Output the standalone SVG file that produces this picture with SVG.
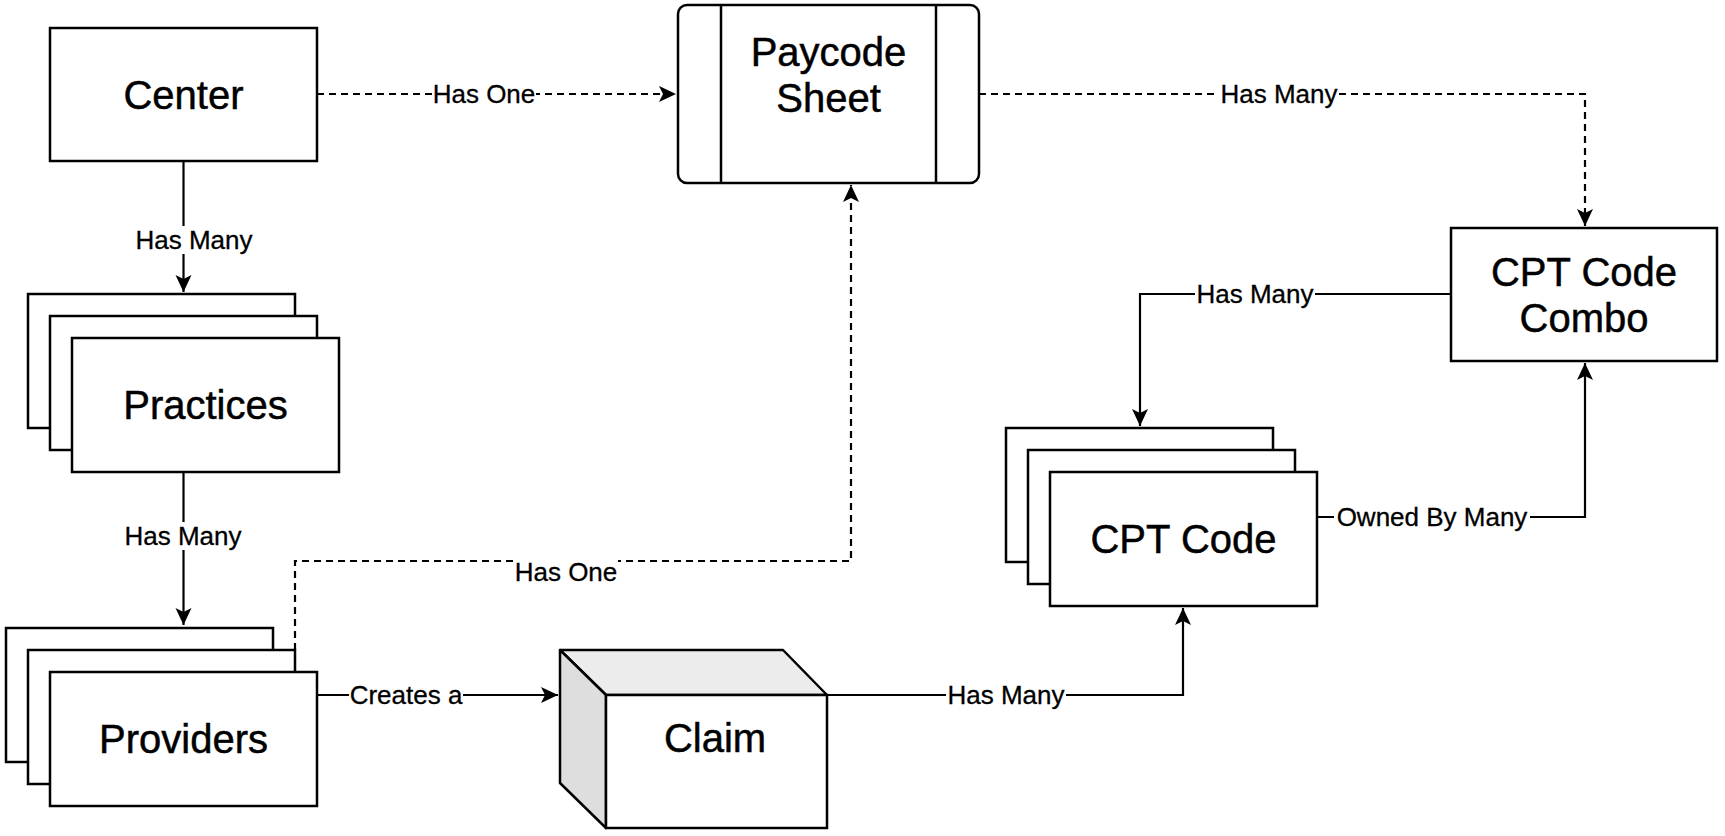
<svg xmlns="http://www.w3.org/2000/svg" width="1725" height="836" viewBox="0 0 1725 836">
<defs>
<style>
.box{fill:#fff;stroke:#000;stroke-width:2.5}
.node{font-family:"Liberation Sans",Arial,sans-serif;font-size:40px;fill:#000;stroke:#000;stroke-width:0.5;text-anchor:middle}
.lbl{font-family:"Liberation Sans",Arial,sans-serif;font-size:26px;fill:#000;stroke:#000;stroke-width:0.3;text-anchor:middle}
.lbg{fill:#fff;stroke:none}
.edge{fill:none;stroke:#000;stroke-width:2.2}
.dash{stroke-dasharray:7 5}
</style>
<marker id="arr" markerUnits="userSpaceOnUse" markerWidth="18" markerHeight="18" viewBox="0 0 18 18" refX="17" refY="9" orient="auto">
<path d="M0,1 L17,9 L0,17 L4,9 Z" fill="#000"/>
</marker>
</defs>
<rect width="1725" height="836" fill="#fff"/>

<g id="connectors">
<path class="edge dash" d="M317,94 L676,94" marker-end="url(#arr)"/>
<path class="edge dash" d="M979,94 L1585,94 L1585,226" marker-end="url(#arr)"/>
<path class="edge" d="M183.5,161 L183.5,292" marker-end="url(#arr)"/>
<path class="edge" d="M183.5,472 L183.5,625" marker-end="url(#arr)"/>
<path class="edge" d="M1451,294 L1140,294 L1140,426" marker-end="url(#arr)"/>
<path class="edge" d="M1317,517 L1585,517 L1585,363" marker-end="url(#arr)"/>
<path class="edge" d="M317,695 L558,695" marker-end="url(#arr)"/>
<path class="edge" d="M827,695 L1183,695 L1183,608" marker-end="url(#arr)"/>
<path class="edge dash" d="M295,650 L295,561 L851,561 L851,185" marker-end="url(#arr)"/>
<rect class="lbg" x="432" y="80" width="104" height="28"/>
<text class="lbl" x="484" y="103">Has One</text>
<rect class="lbg" x="1219" y="80" width="120" height="28"/>
<text class="lbl" x="1279" y="103">Has Many</text>
<rect class="lbg" x="134" y="226" width="120" height="28"/>
<text class="lbl" x="194" y="249">Has Many</text>
<rect class="lbg" x="123" y="522" width="120" height="28"/>
<text class="lbl" x="183" y="545">Has Many</text>
<rect class="lbg" x="514" y="560" width="104" height="26"/>
<text class="lbl" x="566" y="581">Has One</text>
<rect class="lbg" x="349" y="681" width="114" height="28"/>
<text class="lbl" x="406" y="704">Creates a</text>
<rect class="lbg" x="946" y="681" width="120" height="28"/>
<text class="lbl" x="1006" y="704">Has Many</text>
<rect class="lbg" x="1195" y="280" width="120" height="28"/>
<text class="lbl" x="1255" y="303">Has Many</text>
<rect class="lbg" x="1334" y="503" width="196" height="28"/>
<text class="lbl" x="1432" y="526">Owned By Many</text>
</g>

<g id="center">
<rect class="box" x="50" y="28" width="267" height="133"/>
<text class="node" x="183.5" y="108.5">Center</text>
</g>

<g id="paycode-sheet">
<rect class="box" x="678" y="5" width="301" height="178" rx="9" ry="9"/>
<line x1="721" y1="5" x2="721" y2="183" stroke="#000" stroke-width="2.5"/>
<line x1="936" y1="5" x2="936" y2="183" stroke="#000" stroke-width="2.5"/>
<text class="node" x="828.5" y="66">Paycode</text>
<text class="node" x="828.5" y="112">Sheet</text>
</g>

<g id="cpt-code-combo">
<rect class="box" x="1451" y="228" width="266" height="133"/>
<text class="node" x="1584" y="286">CPT Code</text>
<text class="node" x="1584" y="332">Combo</text>
</g>

<g id="practices">
<rect class="box" x="28" y="294" width="267" height="134"/>
<rect class="box" x="50" y="316" width="267" height="134"/>
<rect class="box" x="72" y="338" width="267" height="134"/>
<text class="node" x="205.5" y="419">Practices</text>
</g>

<g id="providers">
<rect class="box" x="6" y="628" width="267" height="134"/>
<rect class="box" x="28" y="650" width="267" height="134"/>
<rect class="box" x="50" y="672" width="267" height="134"/>
<text class="node" x="183.5" y="753">Providers</text>
</g>

<g id="cpt-code">
<rect class="box" x="1006" y="428" width="267" height="134"/>
<rect class="box" x="1028" y="450" width="267" height="134"/>
<rect class="box" x="1050" y="472" width="267" height="134"/>
<text class="node" x="1183.5" y="553">CPT Code</text>
</g>

<g id="claim">
<polygon points="560,650 783,650 827,695 606,695" fill="#ececec" stroke="#000" stroke-width="2.5" stroke-linejoin="round"/>
<polygon points="560,650 606,695 606,828 560,783" fill="#dedede" stroke="#000" stroke-width="2.5" stroke-linejoin="round"/>
<rect class="box" x="606" y="695" width="221" height="133"/>
<text class="node" x="715" y="752">Claim</text>
</g>
</svg>
